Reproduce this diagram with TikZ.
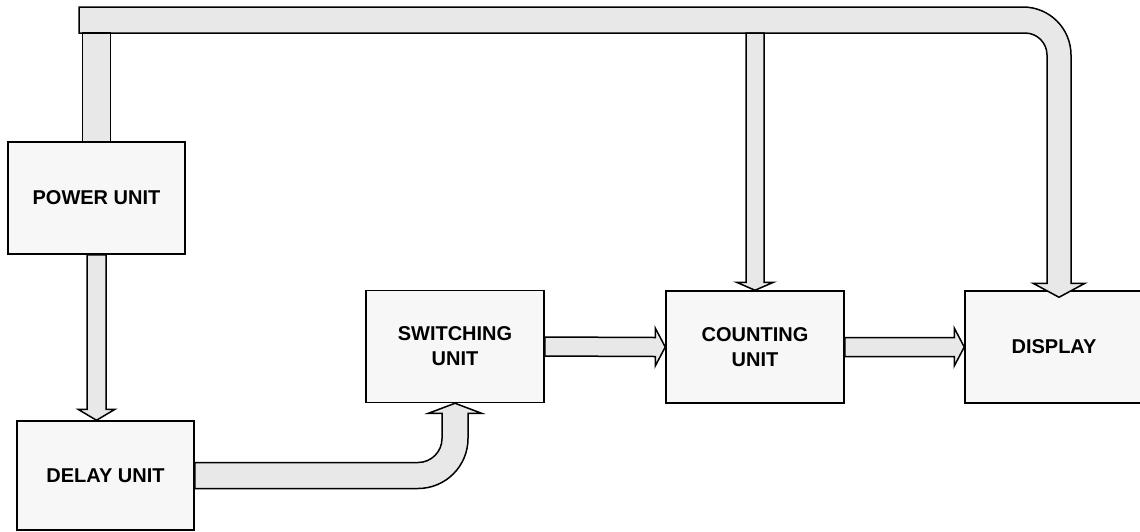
\documentclass[tikz,border=0pt]{standalone}
\usepackage{fontspec}
\setmainfont{Liberation Sans}
\usetikzlibrary{calc}

\begin{document}
\begin{tikzpicture}[x=1pt, y=-1pt,
      unit/.style={draw, line width=1.5pt, fill=black!3, minimum width=177pt, minimum height=112pt, align=center, font=\fontsize{20}{25}\selectfont\bfseries},
      pipe/.style={draw, line width=1.5pt, fill=black!9, line join=miter}]
    \useasboundingbox (0,0) rectangle (1140,531);
    \clip (0,0) rectangle (1140,531);
    % blocks
    \node[unit] (power) at (96.5,198) {POWER UNIT};
    \node[unit, minimum height=109pt] (delay) at (105.5,475.5) {DELAY UNIT};
    \node[unit, minimum width=178pt] (switch) at (455,346.5) {SWITCHING\\UNIT};
    \node[unit, minimum width=178pt] (count) at (755,347) {COUNTING\\UNIT};
    \node[unit, minimum width=178pt] (disp) at (1054,347) {DISPLAY};
    \coordinate (bus) at (79,33);
    % supply bus along the top
    \draw[pipe] (bus) -- (79,7) -- (1023,7) arc[start angle=-90, end angle=0, radius=48]
      -- ($(disp.north)+(17,-7)$) -- ($(disp.north)+(31,-7)$) -- ($(disp.north)+(5,7)$)
      -- ($(disp.north)+(-21,-7)$) -- ($(disp.north)+(-7,-7)$) -- (1047,55)
      arc[start angle=0, end angle=-90, radius=22] -- cycle;
    \draw[pipe] ($(power.north)+(-14,0)$) rectangle ($(power.north |- bus)+(14,0)$);
    \draw[pipe] ($(count.north |- bus)+(-9,0)$) -- ($(count.north)+(-9,-8)$) -- ($(count.north)+(-18.5,-8)$)
      -- (count.north) -- ($(count.north)+(18.5,-8)$) -- ($(count.north)+(9,-8)$) -- ($(count.north |- bus)+(9,0)$) -- cycle;
    % signal path
    \draw[pipe] ($(power.south)+(-9.5,0)$) -- ($(power.south |- delay.north)+(-9.5,-11)$)
      -- ($(power.south |- delay.north)+(-18.5,-11)$) -- (power.south |- delay.north)
      -- ($(power.south |- delay.north)+(18.5,-11)$) -- ($(power.south |- delay.north)+(9.5,-11)$)
      -- ($(power.south)+(9.5,0)$) -- cycle;
    \draw[pipe] ($(delay.east)+(0,-13)$) -- ($(switch.south |- delay.east)+(-37,-13)$)
      arc[start angle=90, end angle=0, radius=24] -- ($(switch.south)+(-13,10)$)
      -- ($(switch.south)+(-26.5,10)$) -- (switch.south) -- ($(switch.south)+(26.5,10)$)
      -- ($(switch.south)+(13,10)$) -- ($(switch.south |- delay.east)+(13,-37)$)
      arc[start angle=0, end angle=90, radius=50] -- ($(delay.east)+(0,13)$) -- cycle;
    \draw[pipe] ($(switch.east)+(0,-9.5)$) -- ($(count.west)+(-10,-9.5)$) -- ($(count.west)+(-10,-19)$)
      -- (count.west) -- ($(count.west)+(-10,19)$) -- ($(count.west)+(-10,9.5)$) -- ($(switch.east)+(0,9.5)$) -- cycle;
    \draw[pipe] ($(count.east)+(0,-9.5)$) -- ($(disp.west)+(-10,-9.5)$) -- ($(disp.west)+(-10,-19)$)
      -- (disp.west) -- ($(disp.west)+(-10,19)$) -- ($(disp.west)+(-10,9.5)$) -- ($(count.east)+(0,9.5)$) -- cycle;
  \end{tikzpicture}
\end{document}
